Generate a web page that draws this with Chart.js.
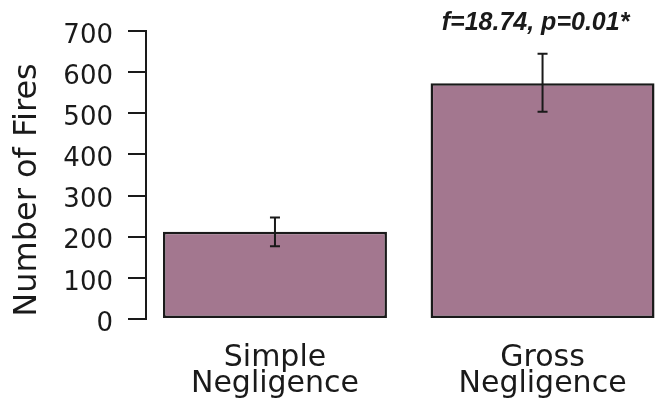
<!DOCTYPE html>
<html>
<head>
<meta charset="utf-8">
<script src="https://cdn.jsdelivr.net/npm/chart.js@4.4.1/dist/chart.umd.min.js"></script>
<style>
  html, body { margin: 0; padding: 0; background: #fff; }
  canvas { display: block; }
</style>
</head>
<body>
<canvas id="chart" width="656" height="414"></canvas>
<script>
// values
const categories = [['Simple', 'Negligence'], ['Gross', 'Negligence']];
const fireCounts = [212, 573];
const errLow = [177, 504];
const errHigh = [247, 645];
const yTicks = [0, 100, 200, 300, 400, 500, 600, 700];
const yTitle = 'Number of Fires';
const statText = 'f=18.74, p=0.01*';

const ink = '#1a1a1a';
const barFill = '#a3778f';

// error bars, y title and the stats note
const extras = {
  id: 'extras',
  afterDatasetsDraw(chart) {
    const ctx = chart.ctx;
    const x = chart.scales.x;
    const y = chart.scales.y;
    ctx.save();
    ctx.strokeStyle = ink;
    ctx.lineWidth = 2;
    fireCounts.forEach((v, i) => {
      const px = x.getPixelForValue(i + 1);
      const top = y.getPixelForValue(errHigh[i]);
      const bot = y.getPixelForValue(errLow[i]);
      ctx.beginPath();
      ctx.moveTo(px, top); ctx.lineTo(px, bot);
      ctx.moveTo(px - 5, top); ctx.lineTo(px + 5, top);
      ctx.moveTo(px - 5, bot); ctx.lineTo(px + 5, bot);
      ctx.stroke();
    });

    ctx.fillStyle = ink;
    ctx.font = 'italic bold 25px "Liberation Sans", Arial, sans-serif';
    ctx.textAlign = 'center';
    ctx.textBaseline = 'alphabetic';
    ctx.fillText(statText, x.getPixelForValue(2) - 7, 30);

    const area = chart.chartArea;
    ctx.translate(28, (area.top + area.bottom) / 2 + 15);
    ctx.rotate(-Math.PI / 2);
    ctx.font = '32px "DejaVu Sans", sans-serif';
    ctx.textBaseline = 'middle';
    ctx.fillText(yTitle, 0, 0);
    ctx.restore();
  }
};

new Chart(document.getElementById('chart'), {
  type: 'bar',
  data: {
    datasets: [{
      data: fireCounts.map((v, i) => ({ x: i + 1, y: v })),
      backgroundColor: barFill,
      borderColor: ink,
      borderWidth: 2.5,
      borderSkipped: false,
      categoryPercentage: 1,
      barPercentage: 0.837
    }]
  },
  options: {
    responsive: false,
    animation: false,
    layout: { padding: { top: 31, right: 0, bottom: 0, left: 0 } },
    plugins: { legend: { display: false }, tooltip: { enabled: false } },
    scales: {
      x: {
        type: 'linear',
        min: 0.518,
        max: 2.424,
        offset: false,
        afterBuildTicks: (s) => { s.ticks = categories.map((c, i) => ({ value: i + 1 })); },
        afterFit: (s) => { s.height = 95; },
        grid: { display: false, offset: false },
        border: { display: false },
        ticks: {
          padding: 19,
          color: ink,
          font: { family: '"DejaVu Sans", sans-serif', size: 30, lineHeight: 0.84 },
          callback: (v) => categories[v - 1]
        }
      },
      y: {
        min: 0,
        max: 700,
        afterBuildTicks: (s) => { s.ticks = yTicks.map(v => ({ value: v })); },
        afterFit: (s) => { s.width = 146; },
        grid: { drawOnChartArea: false, drawTicks: true, tickLength: 18, color: ink, lineWidth: 2 },
        border: { display: true, color: ink, width: 2 },
        ticks: {
          padding: 15,
          labelOffset: 5,
          color: ink,
          font: { family: '"DejaVu Sans", sans-serif', size: 26 }
        }
      }
    }
  },
  plugins: [extras]
});
</script>
</body>
</html>
